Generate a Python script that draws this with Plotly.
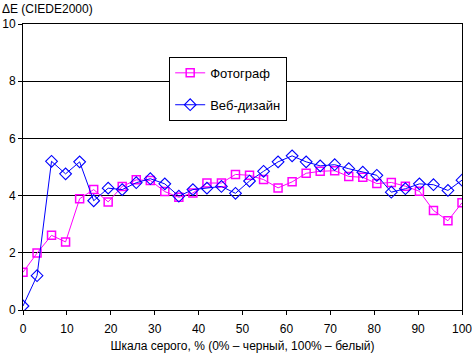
import plotly.graph_objects as go

x_vals = [0, 3.2, 6.5, 9.7, 12.9, 16.1, 19.4, 22.6, 25.8, 29.0, 32.3, 35.5, 38.7, 41.9,
          45.2, 48.4, 51.6, 54.8, 58.1, 61.3, 64.5, 67.7, 71.0, 74.2, 77.4, 80.6,
          83.9, 87.1, 90.3, 93.5, 96.8, 100]
photo = [1.32, 1.99, 2.61, 2.38, 3.89, 4.21, 3.78, 4.32, 4.55, 4.53, 4.14, 3.94, 4.09, 4.44,
         4.44, 4.74, 4.71, 4.56, 4.27, 4.48, 4.78, 4.85, 4.87, 4.67, 4.64, 4.42,
         4.46, 4.33, 4.15, 3.48, 3.12, 3.75]
web = [0.14, 1.2, 5.2, 4.76, 5.18, 3.82, 4.26, 4.21, 4.45, 4.59, 4.41, 3.98, 4.21, 4.26,
       4.32, 4.08, 4.51, 4.85, 5.18, 5.39, 5.18, 5.04, 5.08, 4.94, 4.82, 4.71,
       4.12, 4.24, 4.41, 4.38, 4.18, 4.54]
x_ticks = [0, 10, 20, 30, 40, 50, 60, 70, 80, 90, 100]
y_ticks = [0, 2, 4, 6, 8, 10]

font = "Liberation Sans, Arial, sans-serif"

fig = go.Figure()
fig.add_trace(go.Scatter(
    x=x_vals, y=photo, name="Фотограф", mode="lines+markers",
    line=dict(color="#FF00FF", width=1),
    marker=dict(symbol="square-open", size=8, color="#FF00FF", line=dict(width=1.5)),
    legendgroup="a"))
fig.add_trace(go.Scatter(
    x=x_vals, y=web, name="Веб-дизайн", mode="lines+markers",
    line=dict(color="#0000FF", width=1),
    marker=dict(symbol="diamond-open", size=9, color="#0000FF", line=dict(width=1.1)),
    legendgroup="b"))

fig.update_layout(
    width=472, height=353,
    margin=dict(l=23, r=10, t=24, b=43),
    paper_bgcolor="white", plot_bgcolor="white",
    font=dict(family=font, size=12, color="black"),
    showlegend=True,
    legend=dict(x=0.333, y=0.885, xanchor="left", yanchor="top",
                bgcolor="white", bordercolor="black", borderwidth=1,
                font=dict(size=13), tracegroupgap=12, itemwidth=30,
                entrywidth=95, traceorder="grouped"),
    xaxis=dict(range=[0, 100], tickvals=x_ticks, showgrid=False, zeroline=False,
               showline=True, linecolor="black", linewidth=1, mirror=True,
               ticks="outside", ticklen=4, tickcolor="black", automargin=False,
               ticklabeloverflow="allow", ticklabelstandoff=4,
               title=dict(text="Шкала серого, % (0% – черный, 100% – белый)",
                          font=dict(size=12), standoff=6)),
    yaxis=dict(range=[0, 10], tickvals=y_ticks, showgrid=True, gridcolor="black",
               gridwidth=1, zeroline=False, automargin=False,
               ticklabeloverflow="allow",
               showline=True, linecolor="black", linewidth=1, mirror=True,
               ticks="outside", ticklen=4, tickcolor="black"),
    annotations=[dict(text="ΔE (CIEDE2000)", xref="paper", yref="paper",
                      x=0, y=1, xanchor="left", yanchor="middle",
                      xshift=-23, yshift=15, showarrow=False,
                      font=dict(size=12))],
)

fig.write_html("out.html")
